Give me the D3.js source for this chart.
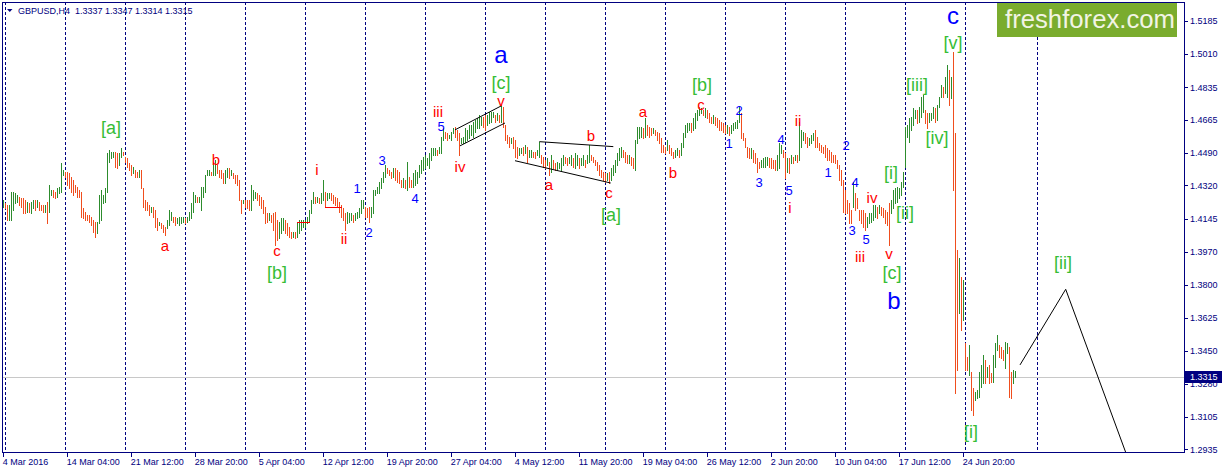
<!DOCTYPE html>
<html>
<head>
<meta charset="utf-8">
<script src="https://cdn.jsdelivr.net/npm/d3@7"></script>
<style>
  body { margin: 0; background: #fff; }
  svg { display: block; }
  text { font-family: "Liberation Sans", Arial, sans-serif; }
</style>
</head>
<body>
<div id="chart"></div>
<script>
// GBPUSD H4 bars, high / low per bar (first bar 4 Mar 2016 20:00)
var high = [
1.4244,1.4226,1.4218,1.4218,1.4288,1.4288,1.4279,1.4270,1.4261,1.4253,
1.4253,1.4244,1.4235,1.4226,1.4235,1.4244,1.4244,1.4244,1.4235,1.4218,
1.4218,1.4218,1.4235,1.4323,1.4296,1.4296,1.4288,1.4305,1.4314,1.4436,
1.4401,1.4393,1.4393,1.4384,1.4366,1.4349,1.4323,1.4314,1.4296,1.4288,
1.4200,1.4183,1.4165,1.4165,1.4156,1.4139,1.4130,1.4130,1.4270,1.4296,
1.4270,1.4305,1.4489,1.4506,1.4498,1.4498,1.4498,1.4489,1.4489,1.4515,
1.4498,1.4471,1.4463,1.4436,1.4428,1.4419,1.4401,1.4393,1.4401,1.4401,
1.4305,1.4244,1.4235,1.4218,1.4209,1.4209,1.4191,1.4148,1.4130,1.4121,
1.4113,1.4104,1.4139,1.4191,1.4183,1.4156,1.4156,1.4148,1.4156,1.4156,
1.4156,1.4148,1.4156,1.4183,1.4226,1.4288,1.4270,1.4261,1.4261,1.4314,
1.4314,1.4375,1.4401,1.4401,1.4393,1.4436,1.4454,1.4428,1.4401,1.4401,
1.4384,1.4401,1.4410,1.4410,1.4401,1.4384,1.4375,1.4375,1.4349,1.4244,
1.4244,1.4244,1.4244,1.4244,
1.4323,1.4296,1.4288,1.4279,1.4270,1.4261,1.4244,1.4209,1.4174,1.4174,
1.4165,1.4174,1.4183,1.4139,1.4130,1.4148,1.4148,1.4139,1.4121,1.4104,
1.4078,1.4078,1.4078,1.4121,1.4139,1.4139,1.4139,1.4139,1.4156,1.4191,
1.4244,1.4288,1.4261,1.4261,1.4253,1.4279,1.4349,1.4288,1.4279,1.4279,
1.4279,1.4270,1.4261,1.4253,1.4235,1.4218,1.4200,1.4174,1.4183,1.4174,
1.4174,1.4165,1.4174,1.4183,1.4200,1.4244,1.4244,1.4209,1.4200,1.4209,
1.4209,1.4296,1.4296,1.4314,1.4340,1.4358,1.4393,1.4428,1.4410,1.4401,
1.4393,1.4410,1.4410,1.4401,1.4393,
1.4349,1.4358,1.4349,1.4445,1.4366,1.4349,1.4384,1.4401,1.4393,1.4428,
1.4454,1.4471,1.4480,1.4463,1.4489,1.4515,1.4515,1.4515,1.4506,1.4524,
1.4576,1.4620,1.4603,1.4594,1.4585,1.4603,1.4620,1.4629,1.4611,1.4594,
1.4568,1.4576,1.4620,1.4611,1.4638,1.4638,1.4655,1.4664,1.4673,1.4690,
1.4681,1.4681,1.4690,1.4690,1.4708,1.4708,1.4708,1.4690,1.4699,1.4690,
1.4743,1.4734,1.4638,1.4585,1.4576,1.4568,1.4576,1.4559,1.4524,1.4515,
1.4515,1.4524,1.4533,1.4524,1.4506,1.4506,1.4498,1.4498,1.4506,1.4550,
1.4480,1.4471,1.4454,1.4463,1.4445,1.4480,1.4454,1.4436,1.4445,1.4436,
1.4463,1.4480,1.4471,1.4463,1.4471,1.4480,1.4463,1.4489,1.4480,1.4463,
1.4463,1.4480,1.4454,1.4480,1.4533,1.4480,1.4471,1.4454,1.4445,1.4428,
1.4401,1.4393,1.4384,1.4384,1.4393,1.4410,1.4428,1.4454,1.4489,1.4515,
1.4524,1.4506,1.4498,1.4480,1.4480,1.4471,1.4463,1.4559,1.4629,1.4629,
1.4629,1.4620,1.4673,1.4638,1.4629,1.4620,1.4620,1.4611,1.4603,1.4594,
1.4568,1.4533,1.4524,1.4559,1.4533,1.4515,1.4498,1.4506,1.4515,1.4506,
1.4541,1.4594,1.4638,1.4646,1.4646,1.4646,1.4673,1.4699,1.4716,1.4734,
1.4725,1.4716,1.4725,1.4716,1.4699,1.4681,1.4690,1.4681,1.4673,1.4664,
1.4655,1.4646,1.4638,1.4638,1.4629,1.4638,1.4646,1.4655,1.4664,1.4734,
1.4699,1.4594,1.4568,1.4524,1.4515,1.4515,1.4506,1.4489,1.4463,1.4445,
1.4454,1.4463,1.4471,1.4471,1.4463,1.4463,1.4454,1.4454,1.4480,1.4541,
1.4533,1.4506,1.4489,1.4463,1.4463,1.4480,1.4471,1.4480,1.4480,1.4655,
1.4611,1.4603,1.4594,1.4576,1.4568,1.4585,1.4594,1.4611,1.4576,1.4541,
1.4533,1.4524,1.4533,1.4515,1.4506,1.4498,1.4480,1.4480,1.4454,1.4428,
1.4401,1.4349,1.4296,1.4244,1.4226,1.4191,1.4340,1.4279,1.4253,1.4191,
1.4191,1.4191,1.4174,1.4156,1.4174,1.4174,1.4218,1.4218,1.4209,1.4218,
1.4209,1.4200,1.4191,1.4183,1.4226,1.4244,1.4296,1.4305,1.4314,1.4305,
1.4340,1.4393,1.4629,1.4638,1.4673,1.4681,1.4725,1.4716,1.4716,1.4734,
1.4786,1.4795,1.4716,1.4699,1.4699,1.4699,1.4734,1.4725,1.4743,1.4786,
1.4848,1.4839,1.4891,1.4953,1.4926,1.4891,1.5023,
1.4594,1.3981,1.3938,1.3841,1.3824,1.3491,1.3421,1.3483,1.3343,1.3255,
1.3238,1.3246,1.3343,1.3378,1.3430,1.3404,1.3369,1.3378,1.3334,1.3430,
1.3491,1.3535,1.3483,1.3474,1.3456,1.3500,1.3491,1.3474,1.3343,1.3351,1.3347
];
var low = [
1.4206,1.4200,1.4139,1.4139,1.4139,1.4191,1.4226,1.4235,1.4218,1.4209,
1.4174,1.4174,1.4183,1.4183,1.4174,1.4200,1.4191,1.4209,1.4191,1.4191,
1.4183,1.4183,1.4121,1.4183,1.4270,1.4261,1.4253,1.4261,1.4279,1.4288,
1.4375,1.4366,1.4323,1.4305,1.4288,1.4270,1.4288,1.4261,1.4261,1.4156,
1.4148,1.4139,1.4139,1.4130,1.4113,1.4078,1.4051,1.4069,1.4121,1.4139,
1.4226,1.4235,1.4288,1.4445,1.4463,1.4471,1.4419,1.4410,1.4428,1.4471,
1.4480,1.4445,1.4419,1.4401,1.4375,1.4384,1.4366,1.4366,1.4366,1.4305,
1.4209,1.4191,1.4191,1.4165,1.4183,1.4156,1.4104,1.4086,1.4113,1.4095,
1.4078,1.4060,1.4095,1.4113,1.4139,1.4130,1.4113,1.4121,1.4113,1.4121,
1.4130,1.4121,1.4130,1.4139,1.4148,1.4183,1.4235,1.4235,1.4235,1.4191,
1.4261,1.4288,1.4375,1.4375,1.4375,1.4375,1.4375,1.4384,1.4366,1.4358,
1.4331,1.4331,1.4366,1.4358,1.4375,1.4358,1.4331,1.4323,1.4244,1.4174,
1.4226,1.4209,1.4200,1.4191,
1.4191,1.4244,1.4253,1.4244,1.4218,1.4200,1.4174,1.4121,1.4130,1.4139,
1.4130,1.4086,1.4008,1.4034,1.4043,1.4069,1.4086,1.4069,1.4060,1.4051,
1.4043,1.4051,1.4043,1.4051,1.4069,1.4086,1.4104,1.4104,1.4121,1.4130,
1.4174,1.4226,1.4226,1.4235,1.4226,1.4226,1.4244,1.4209,1.4244,1.4253,
1.4244,1.4226,1.4218,1.4209,1.4183,1.4156,1.4139,1.4086,1.4121,1.4130,
1.4139,1.4130,1.4139,1.4148,1.4156,1.4174,1.4200,1.4156,1.4156,1.4130,
1.4156,1.4174,1.4270,1.4279,1.4279,1.4305,1.4340,1.4366,1.4384,1.4375,
1.4358,1.4366,1.4349,1.4340,1.4331,
1.4314,1.4314,1.4305,1.4296,1.4314,1.4314,1.4314,1.4323,1.4331,1.4366,
1.4384,1.4401,1.4410,1.4428,1.4410,1.4454,1.4480,1.4480,1.4480,1.4489,
1.4489,1.4559,1.4568,1.4559,1.4568,1.4559,1.4594,1.4576,1.4559,1.4480,
1.4541,1.4541,1.4550,1.4559,1.4568,1.4585,1.4576,1.4603,1.4620,1.4620,
1.4638,1.4629,1.4611,1.4638,1.4646,1.4655,1.4681,1.4655,1.4664,1.4655,
1.4655,1.4629,1.4559,1.4541,1.4524,1.4541,1.4515,1.4471,1.4463,1.4480,
1.4489,1.4480,1.4489,1.4445,1.4471,1.4471,1.4471,1.4463,1.4480,1.4471,
1.4436,1.4419,1.4410,1.4428,1.4375,1.4393,1.4410,1.4401,1.4401,1.4410,
1.4401,1.4428,1.4436,1.4428,1.4436,1.4428,1.4419,1.4410,1.4428,1.4410,
1.4428,1.4428,1.4419,1.4436,1.4445,1.4454,1.4445,1.4428,1.4401,1.4375,
1.4366,1.4349,1.4340,1.4349,1.4335,1.4349,1.4375,1.4393,1.4428,1.4454,
1.4471,1.4471,1.4445,1.4436,1.4436,1.4428,1.4410,1.4401,1.4541,1.4568,
1.4576,1.4568,1.4576,1.4585,1.4576,1.4585,1.4594,1.4585,1.4559,1.4541,
1.4498,1.4498,1.4489,1.4506,1.4489,1.4480,1.4463,1.4471,1.4480,1.4471,
1.4480,1.4524,1.4576,1.4603,1.4611,1.4603,1.4611,1.4620,1.4664,1.4690,
1.4699,1.4690,1.4681,1.4673,1.4655,1.4646,1.4646,1.4638,1.4629,1.4611,
1.4611,1.4603,1.4594,1.4594,1.4585,1.4594,1.4611,1.4620,1.4620,1.4655,
1.4568,1.4559,1.4524,1.4471,1.4463,1.4463,1.4445,1.4436,1.4393,1.4410,
1.4419,1.4419,1.4419,1.4428,1.4419,1.4410,1.4410,1.4401,1.4401,1.4410,
1.4489,1.4471,1.4358,1.4393,1.4384,1.4436,1.4436,1.4454,1.4445,1.4454,
1.4524,1.4559,1.4541,1.4524,1.4533,1.4541,1.4559,1.4524,1.4524,1.4506,
1.4498,1.4489,1.4471,1.4454,1.4454,1.4445,1.4445,1.4436,1.4410,1.4349,
1.4323,1.4183,1.4174,1.4174,1.4121,1.4121,1.4209,1.4191,1.4200,1.4139,
1.4121,1.4104,1.4086,1.4104,1.4121,1.4130,1.4139,1.4156,1.4148,1.4174,
1.4165,1.4156,1.4121,1.4113,1.4008,1.4174,1.4200,1.4226,1.4235,1.4253,
1.4270,1.4314,1.4419,1.4576,1.4550,1.4611,1.4638,1.4673,1.4646,1.4655,
1.4681,1.4708,1.4646,1.4620,1.4655,1.4664,1.4673,1.4655,1.4664,1.4734,
1.4786,1.4786,1.4804,1.4786,1.4743,1.4778,1.4296,
1.3229,1.3351,1.3649,1.3561,1.3614,1.3351,1.3351,1.3325,1.3141,1.3115,
1.3194,1.3203,1.3211,1.3264,1.3281,1.3281,1.3316,1.3281,1.3290,1.3290,
1.3369,1.3456,1.3421,1.3413,1.3404,1.3360,1.3439,1.3211,1.3203,1.3281,1.3314
];

// axes
var priceTicks = [1.5185,1.5010,1.4835,1.4665,1.4490,1.4320,1.4145,1.3970,1.3800,1.3625,1.3450,1.3280,1.3105,1.2935];
var timeLabels = ["4 Mar 2016","14 Mar 04:00","21 Mar 12:00","28 Mar 20:00","5 Apr 04:00","12 Apr 12:00",
  "19 Apr 20:00","27 Apr 04:00","4 May 12:00","11 May 20:00","19 May 04:00","26 May 12:00",
  "2 Jun 20:00","10 Jun 04:00","17 Jun 12:00","24 Jun 20:00"];
var timeBars = [0,32,64,96,128,160,192,224,256,288,320,352,384,416,448,480];
var gridBars = [1,31,61,91,121,151,181,211,241,271,301,331,361,391,421,451,481,517];

var symbol = "GBPUSD,H4";
var lastOHLC = [1.3337, 1.3347, 1.3314, 1.3315];
var lastPrice = 1.3315;

// wave marks: [text, bar, price]
var redMarks = [
  ["a",80.75,1.3976],["b",106.25,1.4428],["c",136.75,1.3950],["i",156.75,1.4375],["ii",170.25,1.4013],
  ["iii",217.25,1.4680],["iv",228.25,1.4391],["v",248.75,1.4738],["a",272.75,1.4297],["b",293.75,1.4554],
  ["c",302.75,1.4255],["a",319.75,1.4680],["b",334.75,1.4360],["c",348.75,1.4717],["i",393.25,1.4176],
  ["ii",397.25,1.4633],["iii",428.25,1.3919],["iv",434.25,1.4228],["v",442.75,1.3934]
];
var blueMarks = [
  ["1",176.75,1.4281],["2",182.75,1.4050],["3",189.25,1.4428],["4",205.75,1.4228],["5",218.75,1.4606],
  ["1",362.75,1.4517],["2",367.75,1.4690],["3",377.75,1.4312],["4",388.75,1.4538],["5",392.75,1.4270],
  ["1",412.25,1.4365],["2",421.25,1.4507],["4",425.75,1.4312],["3",424.25,1.4060],["5",431.25,1.4013]
];
var greenMarks = [
  ["[a]",53.75,1.4591],["[b]",136.75,1.3829],["[c]",248.75,1.4827],["[a]",303.75,1.4134],["[b]",349.25,1.4816],
  ["[iii]",456.75,1.4816],["[iv]",466.75,1.4538],["[v]",474.75,1.5037],["[i]",443.75,1.4354],["[ii]",450.75,1.4144],
  ["[c]",444.25,1.3829],["[i]",483.75,1.2995],["[ii]",529.75,1.3882]
];
var bigMarks = [["a",248.75,1.4963],["b",445.25,1.3672],["c",474.75,1.5168]];

// drawn objects: [bar, price] points
var channelUpper = [[225.75,1.4612],[249.1,1.4739]];
var channelLower = [[228.25,1.4528],[250.75,1.4648]];
var triangleUpper = [[267.9,1.4550],[304.9,1.4524]];
var triangleLower = [[255.75,1.4450],[303.6,1.4333]];
var forecast = [[508.25,1.3378],[531.1,1.3775],[561.1,1.2919]];
var redLevels = [[146.6,153.3,1.4130],[160.75,169,1.4209]];

var W = 1224, H = 473;
var plotL = 2, plotT = 2, plotR = 1184, plotB = 452;
var navy = "#000080", upColor = "#2d8c2d", downColor = "#f04e1e";

var x = d3.scaleLinear().domain([0, 1]).range([3.5, 5.5]);
var y = d3.scaleLinear().domain([1.2935, 1.5185]).range([449.3, 20.7]);
var px = function(v) { return Math.round(v) + 0.5; };

var svg = d3.select("#chart").append("svg")
    .attr("width", W)
    .attr("height", H);

svg.append("rect").attr("width", W).attr("height", H).attr("fill", "#fff");

svg.append("clipPath").attr("id", "plot")
  .append("rect")
    .attr("x", plotL + 1).attr("y", plotT + 1)
    .attr("width", plotR - plotL - 1).attr("height", plotB - plotT - 1);

var plot = svg.append("g").attr("clip-path", "url(#plot)");

// dashed grid
plot.append("g").selectAll("line")
    .data(gridBars)
  .enter().append("line")
    .attr("x1", function(d) { return x(d); })
    .attr("x2", function(d) { return x(d); })
    .attr("y1", plotT).attr("y2", plotB)
    .attr("stroke", navy)
    .attr("stroke-dasharray", "3,2")
    .attr("shape-rendering", "crispEdges");

// last price line
plot.append("line")
    .attr("x1", plotL).attr("x2", plotR)
    .attr("y1", px(y(lastPrice))).attr("y2", px(y(lastPrice)))
    .attr("stroke", "#c8c8c8")
    .attr("shape-rendering", "crispEdges");

// bars
plot.append("g").selectAll("line")
    .data(high)
  .enter().append("line")
    .attr("x1", function(d, i) { return x(i); })
    .attr("x2", function(d, i) { return x(i); })
    .attr("y1", function(d) { return Math.round(y(d)); })
    .attr("y2", function(d, i) { return Math.round(y(low[i])) + 1; })
    .attr("stroke", function(d, i) {
      if (i === 0) return upColor;
      var m = d + low[i], p = high[i - 1] + low[i - 1];
      return m >= p ? upColor : downColor;
    })
    .attr("shape-rendering", "crispEdges");

// drawn lines
var line = d3.line()
    .x(function(d) { return x(d[0]); })
    .y(function(d) { return y(d[1]); });

plot.append("g").selectAll("path")
    .data([channelUpper, channelLower, triangleUpper, triangleLower, forecast])
  .enter().append("path")
    .attr("d", line)
    .attr("fill", "none")
    .attr("stroke", "#000")
    .attr("stroke-width", 1);

plot.append("g").selectAll("line")
    .data(redLevels)
  .enter().append("line")
    .attr("x1", function(d) { return x(d[0]); })
    .attr("x2", function(d) { return x(d[1]); })
    .attr("y1", function(d) { return px(y(d[2])); })
    .attr("y2", function(d) { return px(y(d[2])); })
    .attr("stroke", "#ff0000")
    .attr("shape-rendering", "crispEdges");

// wave labels
function marks(data, size, color) {
  plot.append("g").selectAll("text")
      .data(data)
    .enter().append("text")
      .attr("x", function(d) { return x(d[1]); })
      .attr("y", function(d) { return y(d[2]); })
      .attr("text-anchor", "middle")
      .attr("font-size", size)
      .attr("fill", color)
      .text(function(d) { return d[0]; });
}
marks(redMarks, 15, "#ff0000");
marks(blueMarks, 13, "#0000ff");
marks(greenMarks, 18, "#36bd36");
marks(bigMarks, 24, "#0000ff");

// frame
var frame = svg.append("g").attr("stroke", navy).attr("shape-rendering", "crispEdges");
frame.append("line").attr("x1", plotL + 0.5).attr("x2", plotL + 0.5).attr("y1", plotT).attr("y2", plotB + 1);
frame.append("line").attr("x1", plotL).attr("x2", plotR + 1).attr("y1", plotT + 0.5).attr("y2", plotT + 0.5);
frame.append("line").attr("x1", plotR + 0.5).attr("x2", plotR + 0.5).attr("y1", plotT).attr("y2", plotB + 1);
frame.append("line").attr("x1", plotL).attr("x2", plotR + 1).attr("y1", plotB + 0.5).attr("y2", plotB + 0.5);

// price axis
var yAxis = svg.append("g");
yAxis.selectAll("line")
    .data(priceTicks)
  .enter().append("line")
    .attr("x1", plotR).attr("x2", plotR + 4)
    .attr("y1", function(d) { return px(y(d)); })
    .attr("y2", function(d) { return px(y(d)); })
    .attr("stroke", navy)
    .attr("shape-rendering", "crispEdges");
yAxis.selectAll("text")
    .data(priceTicks)
  .enter().append("text")
    .attr("x", plotR + 6)
    .attr("y", function(d) { return y(d) + 3.3; })
    .attr("font-size", 9)
    .attr("fill", navy)
    .text(function(d) { return d.toFixed(4); });

// last price box
svg.append("rect")
    .attr("x", plotR + 1).attr("y", Math.round(y(lastPrice)) - 6)
    .attr("width", 37).attr("height", 12)
    .attr("fill", navy);
svg.append("text")
    .attr("x", plotR + 6).attr("y", y(lastPrice) + 3.3)
    .attr("font-size", 9)
    .attr("fill", "#fff")
    .text(lastPrice.toFixed(4));

// time axis
var xAxis = svg.append("g");
xAxis.selectAll("line")
    .data(timeBars)
  .enter().append("line")
    .attr("x1", function(d) { return x(d); })
    .attr("x2", function(d) { return x(d); })
    .attr("y1", plotB).attr("y2", plotB + 5)
    .attr("stroke", navy)
    .attr("shape-rendering", "crispEdges");
xAxis.selectAll("text")
    .data(timeBars)
  .enter().append("text")
    .attr("x", function(d) { return x(d) - 0.8; })
    .attr("y", 465)
    .attr("font-size", 9)
    .attr("fill", navy)
    .text(function(d, i) { return timeLabels[i]; });

// header
svg.append("path").attr("d", "M7,9L12.5,9L9.75,12Z").attr("fill", navy);
svg.append("text")
    .attr("x", 18).attr("y", 14)
    .attr("font-size", 9)
    .attr("fill", navy)
    .attr("xml:space", "preserve")
    .text(symbol + "  " + lastOHLC.map(function(v) { return v.toFixed(4); }).join(" "));

// logo
svg.append("rect")
    .attr("x", 997).attr("y", 3)
    .attr("width", 180).attr("height", 34)
    .attr("fill", "#7aac2e");
svg.append("text")
    .attr("x", 1005).attr("y", 28)
    .attr("font-family", "'Open Sans', sans-serif")
    .attr("font-size", 25)
    .attr("fill", "#f2f4e4")
    .attr("textLength", 170)
    .attr("lengthAdjust", "spacingAndGlyphs")
    .text("freshforex.com");
</script>
</body>
</html>
